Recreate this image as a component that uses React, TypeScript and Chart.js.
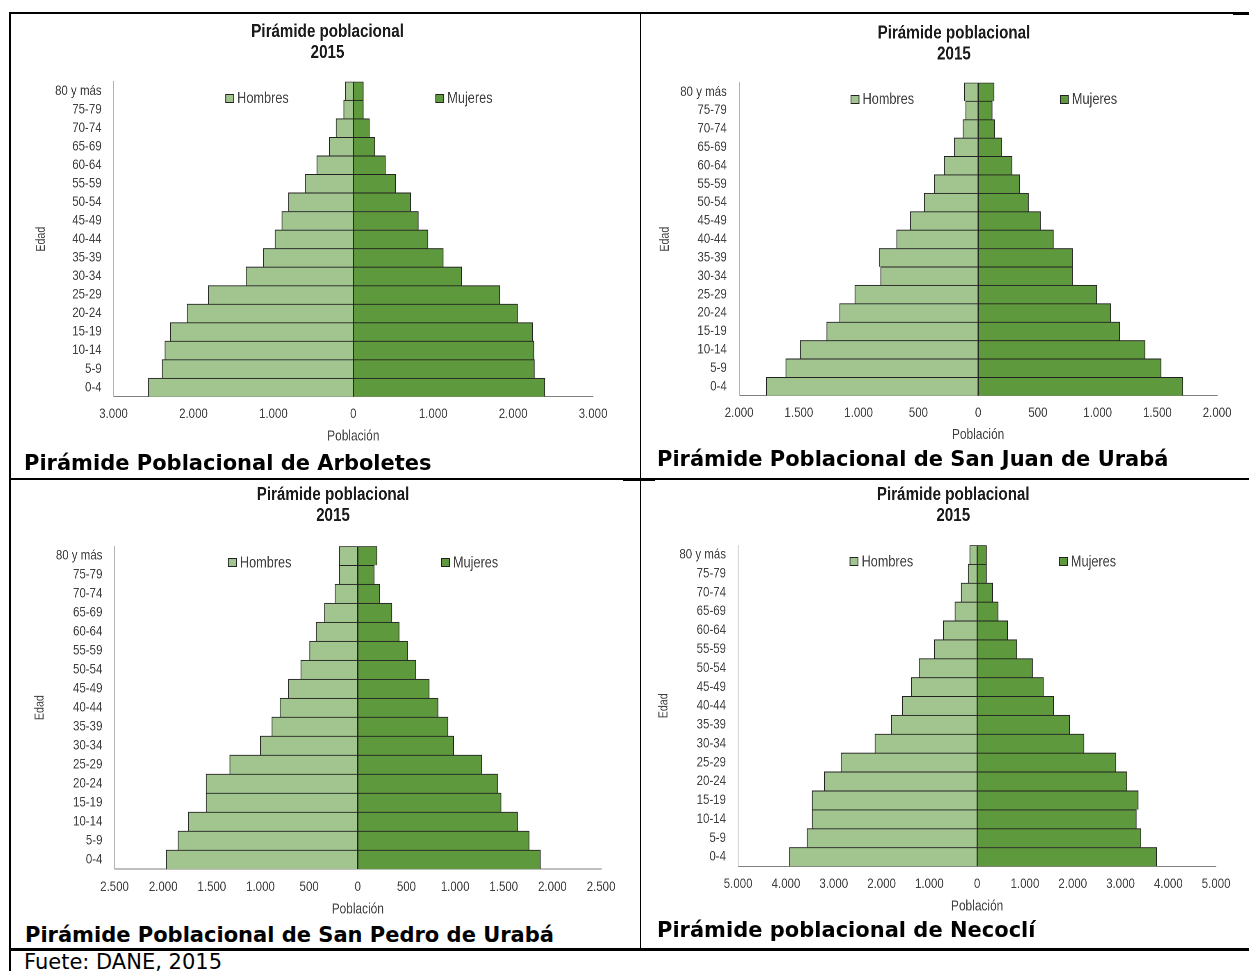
import React, { useEffect, useRef } from "react";
import { Chart, registerables } from "chart.js";

Chart.register(...registerables);

// ---------- DATA ----------
const ageGroups = [
  "80 y más", "75-79", "70-74", "65-69", "60-64", "55-59", "50-54", "45-49", "40-44",
  "35-39", "30-34", "25-29", "20-24", "15-19", "10-14", "5-9", "0-4",
];

const seriesNames = ["Hombres", "Mujeres"];
const chartTitle = ["Pirámide poblacional", "2015"];
const xAxisTitle = "Población";
const yAxisTitle = "Edad";

const arboletesHombres = [100, 120, 216, 301, 457, 603, 809, 894, 980, 1126, 1342, 1814, 2080, 2291, 2357, 2392, 2563];
const arboletesMujeres = [126, 126, 201, 271, 402, 528, 719, 814, 935, 1126, 1357, 1834, 2055, 2246, 2261, 2266, 2397];

const sanJuanHombres = [114, 104, 127, 199, 284, 366, 451, 568, 682, 829, 816, 1032, 1159, 1267, 1489, 1610, 1773];
const sanJuanMujeres = [134, 118, 140, 196, 284, 349, 421, 522, 630, 790, 790, 993, 1110, 1185, 1397, 1531, 1714];

const sanPedroHombres = [190, 190, 235, 342, 429, 495, 586, 714, 800, 883, 1002, 1316, 1559, 1559, 1741, 1848, 1968];
const sanPedroMujeres = [198, 169, 227, 351, 425, 512, 598, 734, 825, 928, 986, 1275, 1436, 1473, 1642, 1761, 1877];

const necocliHombres = [155, 188, 335, 465, 710, 898, 1216, 1380, 1567, 1796, 2139, 2849, 3200, 3453, 3453, 3559, 3926];
const necocliMujeres = [196, 196, 327, 441, 637, 833, 1159, 1388, 1600, 1935, 2237, 2906, 3135, 3371, 3331, 3429, 3755];

const axisMax = [3000, 2000, 2500, 5000];
const axisStep = [1000, 500, 500, 1000];

const captions = [
  "Pirámide Poblacional de Arboletes",
  "Pirámide Poblacional de San Juan de Urabá",
  "Pirámide Poblacional de San Pedro de Urabá",
  "Pirámide poblacional de Necoclí",
];
const sourceNote = "Fuete: DANE, 2015";

// ---------- STYLE / LAYOUT ----------
// Arial-metric font drawn on a canvas compressed horizontally => Arial Narrow look
const SANS = '"Liberation Sans", Arial, sans-serif';
const K = 0.82;
const VERDANA = 'Verdana, "DejaVu Sans", sans-serif';
const COLOR_H = "#A2C590";
const COLOR_M = "#5F993D";
const BAR_BORDER = "#222222";
const TEXT = "#404040";

type Layout = {
  x0: number; y0: number; W: number; H: number;
  titleCx: number; titleY1: number;
  plotL: number; plotR: number; plotT: number; plotB: number;
  edadX: number; poblY: number; tickY: number; labelRight: number;
  capX: number; capY: number;
};

const layouts: Layout[] = [
  { x0: 12, y0: 15, W: 626, H: 435, titleCx: 327.5, titleY1: 31.7, plotL: 113.5, plotR: 593.4, plotT: 81.7, plotB: 396.7, edadX: 41.3, poblY: 436.7, tickY: 414.3, labelRight: 101.6, capX: 24, capY: 463.3 },
  { x0: 642, y0: 15, W: 605, H: 435, titleCx: 953.5, titleY1: 33.3, plotL: 739, plotR: 1217, plotT: 82.7, plotB: 395.7, edadX: 665, poblY: 435, tickY: 413.3, labelRight: 726.7, capX: 657, capY: 459 },
  { x0: 12, y0: 480, W: 626, H: 440, titleCx: 333, titleY1: 494.7, plotL: 114.5, plotR: 601.4, plotT: 546.3, plotB: 869, edadX: 40, poblY: 909.7, tickY: 887, labelRight: 102.4, capX: 25, capY: 934.7 },
  { x0: 642, y0: 480, W: 605, H: 440, titleCx: 952.8, titleY1: 494.7, plotL: 738, plotR: 1216, plotT: 545.3, plotB: 866.3, edadX: 664, poblY: 906.3, tickY: 884, labelRight: 725.9, capX: 657, capY: 930.3 },
];

const fmt = (n: number) => String(Math.round(n)).replace(/\B(?=(\d{3})+(?!\d))/g, ".");

function Pyramid({ hombres, mujeres, max, step, L }: { hombres: number[]; mujeres: number[]; max: number; step: number; L: Layout }) {
  const ref = useRef<HTMLCanvasElement>(null);
  const Wc = L.W / K;
  useEffect(() => {
    if (!ref.current) return;
    const cx = (abs: number) => (abs - L.x0) / K;
    const titleSize = 18.5, titleGap = 21;
    const tickSize = 14, tickLH = 1.2;
    const edadSize = 13;
    const poblSize = 14.5, poblLH = 1.2;
    const legendSize = 15.5;

    const padR = (L.x0 + L.W - L.plotR) / K;
    const yW = cx(L.plotL);
    const xH = L.y0 + L.H - L.plotB;
    const poblPadBottom = L.y0 + L.H - L.poblY - (poblSize * poblLH) / 2;
    const xTickPad = L.tickY - L.plotB - (tickSize * tickLH) / 2;
    const yTickPad = (L.plotL - L.labelRight) / K;

    const decorPlugin = {
      id: "pyrDecor",
      afterDraw(chart: any) {
        const { ctx, chartArea } = chart;
        ctx.save();
        // chart title
        ctx.fillStyle = "#1a1a1a";
        ctx.font = `bold ${titleSize}px ${SANS}`;
        ctx.textAlign = "center";
        ctx.textBaseline = "middle";
        chartTitle.forEach((t, i) => ctx.fillText(t, cx(L.titleCx), L.titleY1 - L.y0 + i * titleGap));

        // y-axis title (rotated, narrow)
        ctx.save();
        ctx.translate(cx(L.edadX), (chartArea.top + chartArea.bottom) / 2);
        ctx.scale(1 / K, 1);
        ctx.rotate(-Math.PI / 2);
        ctx.scale(K, 1);
        ctx.fillStyle = TEXT;
        ctx.font = `${edadSize}px ${SANS}`;
        ctx.fillText(yAxisTitle, 0, 0);
        ctx.restore();

        // legend
        const w = chartArea.right - chartArea.left;
        const y = chartArea.top + 16.5;
        const items = [
          { text: seriesNames[0], color: COLOR_H, frac: 0.234 },
          { text: seriesNames[1], color: COLOR_M, frac: 0.672 },
        ];
        ctx.font = `${legendSize}px ${SANS}`;
        ctx.textAlign = "left";
        for (const it of items) {
          const bx = chartArea.left + it.frac * w;
          const by = Math.round(y - 4.5) + 0.5;
          ctx.fillStyle = it.color;
          ctx.fillRect(bx, by, 8 / K, 8);
          ctx.strokeStyle = BAR_BORDER;
          ctx.lineWidth = 1;
          ctx.strokeRect(bx, by, 8 / K, 8);
          ctx.fillStyle = TEXT;
          ctx.fillText(it.text, bx + 11.5 / K, y + 0.5);
        }
        ctx.restore();
      },
    };

    const chart = new Chart(ref.current, {
      type: "bar",
      data: {
        labels: ageGroups,
        datasets: [
          {
            label: seriesNames[0],
            data: hombres.map((v) => -v),
            backgroundColor: COLOR_H,
            borderColor: BAR_BORDER,
            borderWidth: { top: 1, bottom: 0, left: 1, right: 1 } as any,
            borderSkipped: false,
            barPercentage: 1,
            categoryPercentage: 1,
          },
          {
            label: seriesNames[1],
            data: mujeres,
            backgroundColor: COLOR_M,
            borderColor: BAR_BORDER,
            borderWidth: { top: 1, bottom: 0, left: 1, right: 1 } as any,
            borderSkipped: false,
            barPercentage: 1,
            categoryPercentage: 1,
          },
        ],
      },
      options: {
        indexAxis: "y",
        responsive: false,
        animation: false,
        devicePixelRatio: 2,
        layout: { padding: { left: 0, right: padR, top: L.plotT - L.y0, bottom: 0 } },
        plugins: {
          legend: { display: false },
          tooltip: { enabled: false },
          title: { display: false },
        },
        scales: {
          x: {
            type: "linear",
            stacked: true,
            min: -max,
            max: max,
            grid: { display: false, drawTicks: false },
            border: { display: true, color: "#7f7f7f", width: 1 },
            ticks: {
              stepSize: step,
              autoSkip: false,
              maxRotation: 0,
              padding: xTickPad,
              color: TEXT,
              font: { family: SANS, size: tickSize, lineHeight: tickLH },
              callback: (v: any) => fmt(Math.abs(Number(v))),
            },
            title: {
              display: true,
              text: xAxisTitle,
              color: TEXT,
              font: { family: SANS, size: poblSize, lineHeight: poblLH },
              padding: { top: 0, bottom: poblPadBottom },
            },
            afterFit: (s: any) => { s.height = xH; },
          },
          y: {
            type: "category",
            stacked: true,
            grid: { display: false, drawTicks: false },
            border: { display: true, color: "#b3b3b3", width: 1 },
            ticks: {
              autoSkip: false,
              padding: yTickPad,
              color: TEXT,
              font: { family: SANS, size: tickSize, lineHeight: tickLH },
            },
            title: { display: false },
            afterFit: (s: any) => { s.width = yW; },
          },
        },
      },
      plugins: [decorPlugin],
    } as any);
    return () => chart.destroy();
  }, [hombres, mujeres, max, step, L]);

  return (
    <canvas
      ref={ref}
      width={Wc}
      height={L.H}
      style={{
        position: "absolute",
        left: L.x0,
        top: L.y0,
        width: Wc,
        height: L.H,
        display: "block",
        transformOrigin: "0 0",
        transform: `scaleX(${K})`,
      }}
    />
  );
}

const line = (left: number, top: number, width: number, height: number, key: string) => (
  <div key={key} style={{ position: "absolute", left, top, width, height, background: "#000" }} />
);

export default function App() {
  const data = [
    [arboletesHombres, arboletesMujeres],
    [sanJuanHombres, sanJuanMujeres],
    [sanPedroHombres, sanPedroMujeres],
    [necocliHombres, necocliMujeres],
  ];
  return (
    <div style={{ position: "absolute", left: 0, top: 0, width: 1249, height: 971, background: "#fff", overflow: "hidden" }}>
      {data.map((d, i) => (
        <Pyramid key={i} hombres={d[0]} mujeres={d[1]} max={axisMax[i]} step={axisStep[i]} L={layouts[i]} />
      ))}
      {line(10, 12, 1239, 1.5, "top")}
      {line(1233, 12, 16, 2.5, "topr")}
      {line(9, 12, 2, 959, "left")}
      {line(639.5, 12, 1.5, 937, "mid")}
      {line(10, 478, 1239, 1.5, "row")}
      {line(623, 478, 32, 2.5, "rowc")}
      {line(9, 948, 1240, 2.5, "bottom")}
      {captions.map((c, i) => (
        <div
          key={"cap" + i}
          style={{
            position: "absolute",
            left: layouts[i].capX,
            top: layouts[i].capY - 12,
            lineHeight: "24px",
            fontFamily: VERDANA,
            fontWeight: "bold",
            fontSize: 21,
            color: "#000",
            whiteSpace: "nowrap",
          }}
        >
          {c}
        </div>
      ))}
      <div
        style={{
          position: "absolute",
          left: 24,
          top: 950,
          lineHeight: "24px",
          fontFamily: VERDANA,
          fontSize: 21,
          color: "#000",
          whiteSpace: "nowrap",
        }}
      >
        {sourceNote}
      </div>
    </div>
  );
}
